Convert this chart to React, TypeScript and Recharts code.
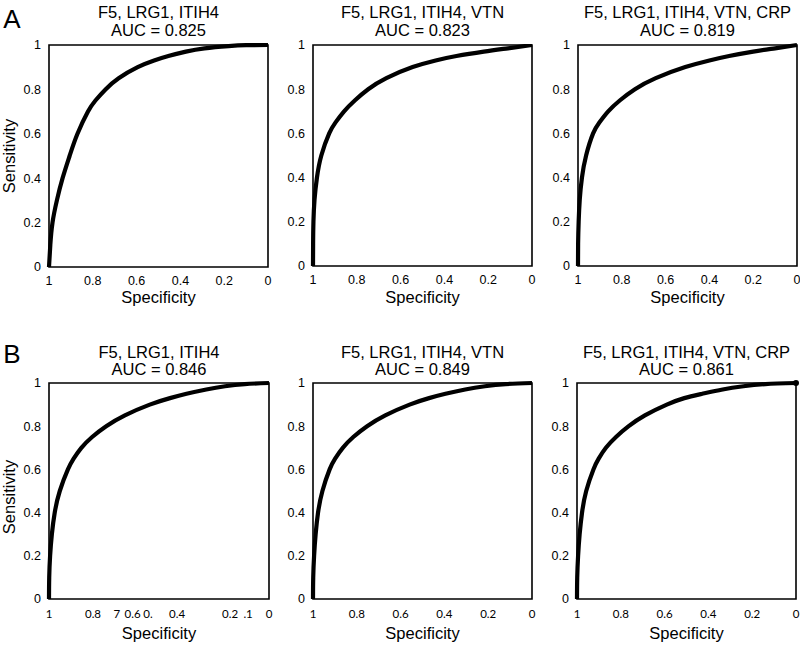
import React from 'react';
import { LineChart, Line, XAxis, YAxis, ReferenceArea, ReferenceDot } from 'recharts';

// ---- data (specificity, sensitivity) ----
const specA1 = [1, 0.994, 0.984, 0.964, 0.938, 0.906, 0.87, 0.822, 0.788, 0.742, 0.682, 0.595, 0.52, 0.455, 0.375, 0.29, 0.18, 0.10, 0];
const sensA1 = [0, 0.1, 0.2, 0.3, 0.4, 0.5, 0.6, 0.7, 0.75, 0.8, 0.85, 0.9, 0.93, 0.95, 0.97, 0.985, 0.995, 0.999, 1];

const specA2 = [1, 0.9995, 0.998, 0.993, 0.982, 0.962, 0.926, 0.897, 0.858, 0.808, 0.748, 0.665, 0.545, 0.44, 0.345, 0.22, 0.11, 0];
const sensA2 = [0, 0.1, 0.2, 0.3, 0.4, 0.5, 0.6, 0.65, 0.7, 0.75, 0.8, 0.85, 0.9, 0.93, 0.95, 0.97, 0.985, 1];

const specA3 = [1, 0.9995, 0.997, 0.992, 0.982, 0.963, 0.931, 0.902, 0.862, 0.808, 0.74, 0.645, 0.51, 0.40, 0.31, 0.20, 0.10, 0];
const sensA3 = [0, 0.1, 0.2, 0.3, 0.4, 0.5, 0.6, 0.65, 0.7, 0.75, 0.8, 0.85, 0.9, 0.93, 0.95, 0.97, 0.985, 1];

const specB1 = [1, 0.999, 0.995, 0.987, 0.974, 0.951, 0.914, 0.888, 0.853, 0.804, 0.74, 0.655, 0.542, 0.45, 0.375, 0.285, 0.20, 0.11, 0];
const sensB1 = [0, 0.1, 0.2, 0.3, 0.4, 0.5, 0.6, 0.65, 0.7, 0.75, 0.8, 0.85, 0.9, 0.93, 0.95, 0.97, 0.985, 0.995, 1];

const specB2 = [1, 0.999, 0.995, 0.988, 0.977, 0.957, 0.924, 0.899, 0.864, 0.816, 0.753, 0.67, 0.559, 0.47, 0.395, 0.305, 0.215, 0.12, 0];
const sensB2 = [0, 0.1, 0.2, 0.3, 0.4, 0.5, 0.6, 0.65, 0.7, 0.75, 0.8, 0.85, 0.9, 0.93, 0.95, 0.97, 0.985, 0.995, 1];

const specB3 = [1, 0.999, 0.995, 0.988, 0.977, 0.958, 0.925, 0.901, 0.868, 0.822, 0.764, 0.69, 0.59, 0.51, 0.428, 0.335, 0.24, 0.14, 0];
const sensB3 = [0, 0.1, 0.2, 0.3, 0.4, 0.5, 0.6, 0.65, 0.7, 0.75, 0.8, 0.85, 0.9, 0.93, 0.95, 0.97, 0.985, 0.995, 1];

const endPointB3 = { spec: 0, sens: 1 };

// ---- tick labels ----
const yTicks = [0, 0.2, 0.4, 0.6, 0.8, 1];
const xTicks = [1, 0.8, 0.6, 0.4, 0.2, 0];
const xTicksB1 = [1, 0.8, 0.692, 0.62, 0.55, 0.418, 0.177, 0.095, 0];
const xTickLabelsB1 = ['1', '0.8', '7', '0.6', '0.', '0.4', '0.2', '.1', '0'];

const titlesA = ['F5, LRG1, ITIH4', 'F5, LRG1, ITIH4, VTN', 'F5, LRG1, ITIH4, VTN, CRP'];
const titlesB = ['F5, LRG1, ITIH4', 'F5, LRG1, ITIH4, VTN', 'F5, LRG1, ITIH4, VTN, CRP'];
const aucA = ['AUC = 0.825', 'AUC = 0.823', 'AUC = 0.819'];
const aucB = ['AUC = 0.846', 'AUC = 0.849', 'AUC = 0.861'];

const toRows = (spec: number[], sens: number[]) => spec.map((s, i) => ({ spec: s, sens: sens[i] }));

const ARIAL = '"Liberation Sans", Arial, sans-serif';

type PanelProps = {
  px: number; py: number; pw: number; ph: number;
  data: { spec: number; sens: number }[];
  ticks: number[];
  tickLabels?: string[];
  rowB: boolean;
  dot?: { spec: number; sens: number };
};

const Panel = ({ px, py, pw, ph, data, ticks, tickLabels, rowB, dot }: PanelProps) => {
  const yW = 45;
  const top = 10;
  const right = 8;
  const xH = 30;
  const fmt = (v: number) => {
    if (tickLabels) {
      const idx = ticks.indexOf(v);
      return idx >= 0 ? tickLabels[idx] : String(v);
    }
    return String(v);
  };
  return (
    <div style={{ position: 'absolute', left: px - yW, top: py - top }}>
      <LineChart width={pw + yW + right} height={ph + top + xH} data={data}
        margin={{ top, right, left: 0, bottom: 0 }}>
        <XAxis type="number" dataKey="spec" domain={[0, 1]} reversed ticks={ticks}
          interval={0} tickLine={false} axisLine={false} height={xH}
          tickMargin={rowB ? 5 : 3}
          tickFormatter={fmt}
          tick={{ fill: '#000', fontSize: rowB ? 11.5 : 12.5, fontFamily: rowB ? 'Lato, "Open Sans", sans-serif' : ARIAL }} />
        <YAxis type="number" dataKey="sens" domain={[0, 1]} ticks={yTicks} interval={0}
          tickLine={false} axisLine={false} width={yW}
          tick={{ fill: '#000', fontSize: 12.5, fontFamily: ARIAL }} />
        <ReferenceArea x1={0} x2={1} y1={0} y2={1} fill="none" stroke="#000" strokeWidth={1.6} fillOpacity={0} />
        <Line type="natural" dataKey="sens" stroke="#000" strokeWidth={4.2} dot={false}
          isAnimationActive={false} />
        {dot ? <ReferenceDot x={dot.spec} y={dot.sens} r={3} fill="#000" stroke="none" /> : null}
      </LineChart>
    </div>
  );
};

const Text = ({ x, y, children, size = 16.5, rotate = false, family = ARIAL }: any) => (
  <div style={{
    position: 'absolute', left: x, top: y, transform: `translate(-50%, -50%)${rotate ? ' rotate(-90deg)' : ''}`,
    fontFamily: family, fontSize: size, lineHeight: 1, whiteSpace: 'nowrap', color: '#000',
  }}>{children}</div>
);

const panelsA = [
  { px: 49, py: 45, pw: 219, ph: 222 },
  { px: 313, py: 45, pw: 219, ph: 221 },
  { px: 578, py: 45, pw: 219, ph: 221 },
];
const panelsB = [
  { px: 49, py: 383, pw: 220, ph: 216 },
  { px: 313, py: 383, pw: 219, ph: 216 },
  { px: 577, py: 383, pw: 219, ph: 216 },
];

const dataA = [toRows(specA1, sensA1), toRows(specA2, sensA2), toRows(specA3, sensA3)];
const dataB = [toRows(specB1, sensB1), toRows(specB2, sensB2), toRows(specB3, sensB3)];

export default function App() {
  return (
    <div style={{ position: 'absolute', left: 0, top: 0, width: 800, height: 645, background: '#fff', overflow: 'hidden' }}>
      <Text x={12} y={19} size={26}>A</Text>
      <Text x={12} y={354} size={26}>B</Text>
      {panelsA.map((p, i) => (
        <React.Fragment key={'a' + i}>
          <Text x={p.px + p.pw / 2} y={12}>{titlesA[i]}</Text>
          <Text x={p.px + p.pw / 2} y={30}>{aucA[i]}</Text>
          <Text x={p.px + p.pw / 2} y={297}>Specificity</Text>
          <Panel {...p} data={dataA[i]} ticks={xTicks} rowB={false} />
        </React.Fragment>
      ))}
      {panelsB.map((p, i) => (
        <React.Fragment key={'b' + i}>
          <Text x={p.px + p.pw / 2} y={352}>{titlesB[i]}</Text>
          <Text x={p.px + p.pw / 2} y={369}>{aucB[i]}</Text>
          <Text x={p.px + p.pw / 2} y={633}>Specificity</Text>
          <Panel {...p} data={dataB[i]} ticks={i === 0 ? xTicksB1 : xTicks}
            tickLabels={i === 0 ? xTickLabelsB1 : undefined} rowB={true}
            dot={i === 2 ? endPointB3 : undefined} />
        </React.Fragment>
      ))}
      <Text x={9} y={156} rotate>Sensitivity</Text>
      <Text x={9} y={497} rotate>Sensitivity</Text>
    </div>
  );
}
